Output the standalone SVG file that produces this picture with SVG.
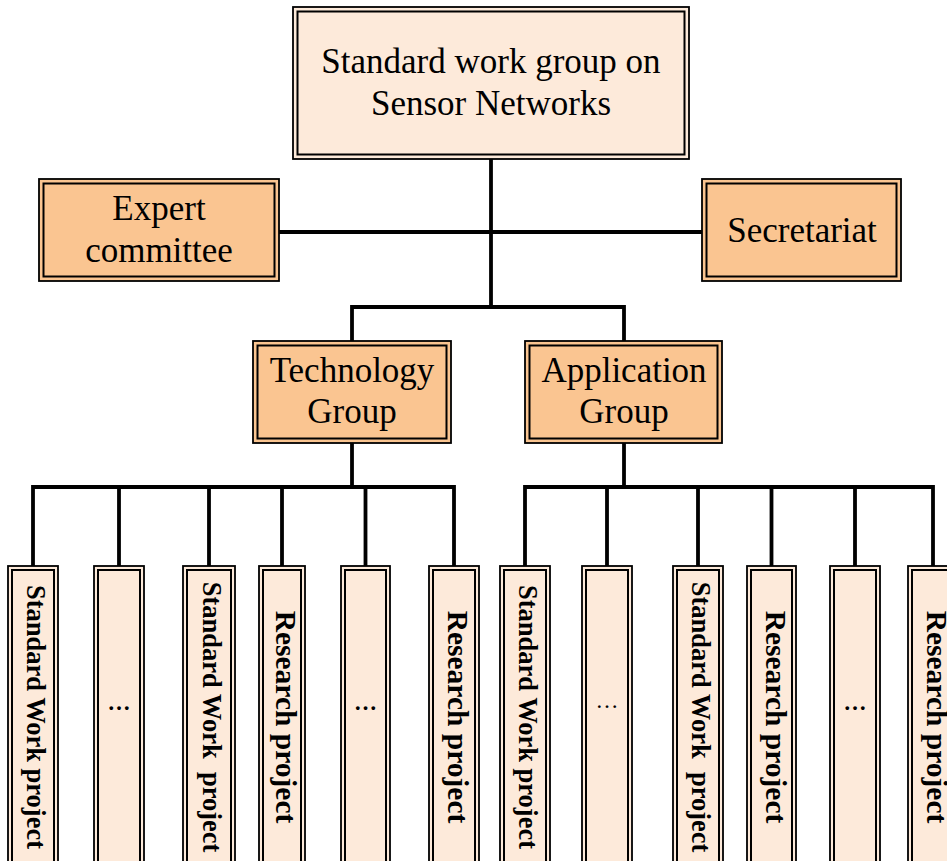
<svg xmlns="http://www.w3.org/2000/svg" width="947" height="861" viewBox="0 0 947 861">
  <style>
    .outer { stroke: #000; stroke-width: 1.8; }
    .inner { fill: none; stroke: #000; stroke-width: 2; }
    .light { fill: #FDEADA; }
    .mid { fill: #FAC591; }
    .lbl { font-family: "Liberation Serif", "Times New Roman", serif; font-size: 35px; fill: #000; text-anchor: middle; }
    .vlbl { font-family: "Liberation Serif", "Times New Roman", serif; font-weight: bold; fill: #000; text-anchor: middle; }
    .sw { font-size: 26.5px; }
    .rp { font-size: 29.5px; }
    .dots { font-family: "Liberation Serif", "Times New Roman", serif; font-size: 23px; fill: #000; text-anchor: middle; }
    .conn { fill: none; stroke: #000; stroke-width: 3.8; stroke-linejoin: miter; stroke-linecap: square; }
  </style>

  <!-- connectors -->
  <g id="connectors" class="conn">
    <path d="M491,159 V307"/>
    <path d="M279,232 H702"/>
    <path d="M352,342 V307 H624 V342"/>
    <path d="M352,443 V487"/>
    <path d="M624,443 V487"/>
    <path d="M33,566 V487 H454 V566"/>
    <path d="M119,487 V566 M209,487 V566 M282,487 V566 M365.5,487 V566"/>
    <path d="M525,566 V487 H933 V566"/>
    <path d="M607,487 V566 M698,487 V566 M771.5,487 V566 M855,487 V566"/>
  </g>

  <!-- top node -->
  <g id="swg">
    <rect class="outer light" x="293" y="7" width="396" height="152"/>
    <rect class="inner" x="297.5" y="11.5" width="387" height="143"/>
    <text class="lbl" x="491" y="73">Standard work group on</text>
    <text class="lbl" x="491" y="115">Sensor Networks</text>
  </g>

  <g id="expert">
    <rect class="outer mid" x="39" y="179" width="240" height="102"/>
    <rect class="inner" x="43.5" y="183.5" width="231" height="93"/>
    <text class="lbl" x="159" y="220">Expert</text>
    <text class="lbl" x="159" y="262">committee</text>
  </g>

  <g id="secretariat">
    <rect class="outer mid" x="702" y="179" width="199" height="102"/>
    <rect class="inner" x="706.5" y="183.5" width="190" height="93"/>
    <text class="lbl" x="802" y="242">Secretariat</text>
  </g>

  <g id="tech">
    <rect class="outer mid" x="253" y="341" width="198" height="102"/>
    <rect class="inner" x="257.5" y="345.5" width="189" height="93"/>
    <text class="lbl" x="352" y="382">Technology</text>
    <text class="lbl" x="352" y="423">Group</text>
  </g>

  <g id="app">
    <rect class="outer mid" x="525" y="341" width="197" height="102"/>
    <rect class="inner" x="529.5" y="345.5" width="188" height="93"/>
    <text class="lbl" x="624" y="382">Application</text>
    <text class="lbl" x="624" y="423">Group</text>
  </g>

  <!-- project columns, technology side -->
  <g id="t1">
    <rect class="outer light" x="8" y="566" width="50" height="310"/>
    <rect class="inner" x="12" y="570" width="42" height="310"/>
    <text class="vlbl sw" transform="translate(27,717) rotate(90)">Standard Work project</text>
  </g>
  <g id="t2">
    <rect class="outer light" x="94" y="566" width="50" height="310"/>
    <rect class="inner" x="98" y="570" width="42" height="310"/>
    <text class="dots" font-weight="bold" x="119" y="710">…</text>
  </g>
  <g id="t3">
    <rect class="outer light" x="183" y="566" width="52" height="310"/>
    <rect class="inner" x="187" y="570" width="44" height="310"/>
    <text class="vlbl sw" transform="translate(203,717) rotate(90)" xml:space="preserve">Standard Work  project</text>
  </g>
  <g id="t4">
    <rect class="outer light" x="259" y="566" width="46" height="310"/>
    <rect class="inner" x="263" y="570" width="38" height="310"/>
    <text class="vlbl rp" transform="translate(276,717) rotate(90)">Research project</text>
  </g>
  <g id="t5">
    <rect class="outer light" x="341" y="566" width="49" height="310"/>
    <rect class="inner" x="345" y="570" width="41" height="310"/>
    <text class="dots" font-weight="bold" x="365.5" y="710">…</text>
  </g>
  <g id="t6">
    <rect class="outer light" x="429" y="566" width="50" height="310"/>
    <rect class="inner" x="433" y="570" width="42" height="310"/>
    <text class="vlbl rp" transform="translate(448,717) rotate(90)">Research project</text>
  </g>

  <!-- project columns, application side -->
  <g id="a1">
    <rect class="outer light" x="500" y="566" width="50" height="310"/>
    <rect class="inner" x="504" y="570" width="42" height="310"/>
    <text class="vlbl sw" transform="translate(519,717) rotate(90)">Standard Work project</text>
  </g>
  <g id="a2">
    <rect class="outer light" x="582" y="566" width="50" height="310"/>
    <rect class="inner" x="586" y="570" width="42" height="310"/>
    <text class="dots" x="607" y="708">…</text>
  </g>
  <g id="a3">
    <rect class="outer light" x="673" y="566" width="50" height="310"/>
    <rect class="inner" x="677" y="570" width="42" height="310"/>
    <text class="vlbl sw" transform="translate(692,717) rotate(90)" xml:space="preserve">Standard Work  project</text>
  </g>
  <g id="a4">
    <rect class="outer light" x="747" y="566" width="49" height="310"/>
    <rect class="inner" x="751" y="570" width="41" height="310"/>
    <text class="vlbl rp" transform="translate(766,717) rotate(90)">Research project</text>
  </g>
  <g id="a5">
    <rect class="outer light" x="830" y="566" width="50" height="310"/>
    <rect class="inner" x="834" y="570" width="42" height="310"/>
    <text class="dots" font-weight="bold" x="855" y="710">…</text>
  </g>
  <g id="a6">
    <rect class="outer light" x="908" y="566" width="50" height="310"/>
    <rect class="inner" x="912" y="570" width="42" height="310"/>
    <text class="vlbl rp" transform="translate(927,717) rotate(90)">Research project</text>
  </g>
</svg>
